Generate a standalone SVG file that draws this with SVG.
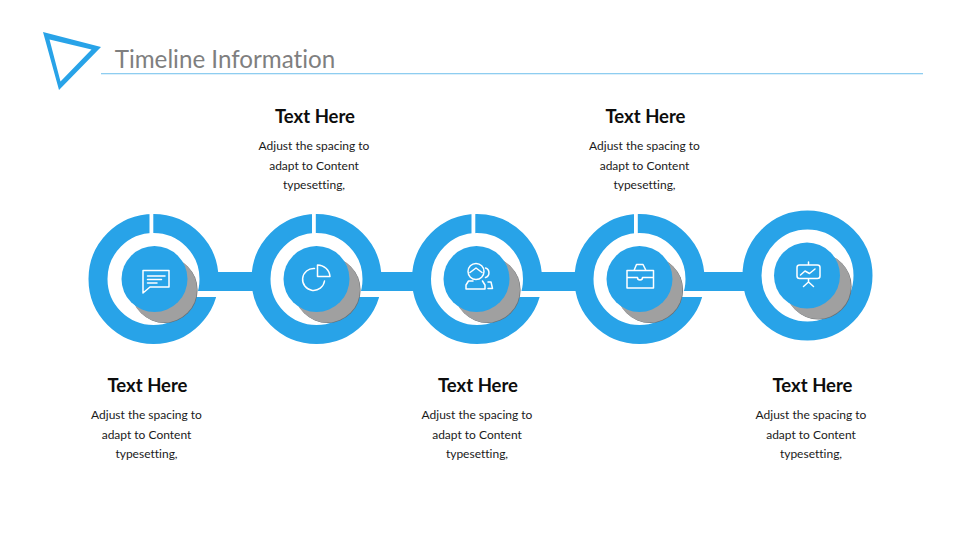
<svg xmlns="http://www.w3.org/2000/svg" width="960" height="540" viewBox="0 0 960 540">
<style>
.ring{fill:none;stroke:#28a3e8;stroke-width:19}
.cut{fill:#fff}
.bar{fill:#28a3e8}
.shade{fill:#6a6f73}
.gray{fill:#a0a0a0}
.disc{fill:#28a3e8}
.ico{fill:none;stroke:#fff;stroke-width:1.500;stroke-linejoin:round;stroke-linecap:round}
text{font-family:Lato,"Open Sans","Liberation Sans",sans-serif;text-anchor:middle;font-variant-ligatures:none}
.h{font-size:18.500px;font-weight:700;fill:#0d0d0d}
.b{font-size:12px;fill:#1a1a1a}
</style>
<rect width="960" height="540" fill="#fff"/>
<g id="header">
<path d="M43 32L101 47L59 90ZM49.500 39.500L60.500 81.500L91.500 49.500Z" fill="#28a3e8" fill-rule="evenodd"/>
<rect x="101" y="73" width="822" height="1.300" fill="#8ecdf0"/>
<text x="225" y="68" style="font-size:24.200px;fill:#7f7f7f">Timeline Information</text>
</g>
<g id="rings">
<g id="node1">
<circle class="ring" cx="153.500" cy="279" r="55.500"/>
<rect class="cut" x="149.500" y="210" width="3.800" height="28"/>
<rect class="cut" x="195" y="291" width="30" height="6"/>
<circle class="shade" cx="164.600" cy="290" r="33"/>
<circle class="gray" cx="164" cy="289.500" r="33"/>
<circle class="disc" cx="154.500" cy="279" r="33"/>
<path class="ico" d="M143 293V270.500H169V287H150ZM147.500 276H165M147.500 279.500H161.500M147.500 283H157"/>
</g>
<g id="node2">
<circle class="ring" cx="316.500" cy="279" r="55.500"/>
<rect class="cut" x="312" y="210" width="3.800" height="28"/>
<rect class="cut" x="358" y="291" width="30" height="6"/>
<circle class="shade" cx="327.600" cy="290" r="33"/>
<circle class="gray" cx="327" cy="289.500" r="33"/>
<circle class="disc" cx="316.500" cy="279" r="33"/>
<path class="ico" d="M314.500 268.500A11 11 0 1 0 324.500 281M317.500 265A12.500 12.500 0 0 1 330 276.500H317.500Z"/>
</g>
<g id="node3">
<circle class="ring" cx="477" cy="279" r="55.500"/>
<rect class="cut" x="471.500" y="210" width="3.800" height="28"/>
<rect class="cut" x="518" y="291" width="30" height="6"/>
<circle class="shade" cx="487.600" cy="290" r="33"/>
<circle class="gray" cx="487" cy="289.500" r="33"/>
<circle class="disc" cx="476.500" cy="279" r="33"/>
<path class="ico" d="M476 263.500A8 8 0 1 0 476 279.500A8 8 0 1 0 476 263.500ZM470 272.500L476 268L482 272.500M473 281H468.500L466 285V289H485V285L482.500 281M485.500 268A5 5 0 0 1 485.500 277.500M488 282H491L492.500 288.500H488"/>
</g>
<g id="node4">
<circle class="ring" cx="639.500" cy="279" r="55.500"/>
<rect class="cut" x="634" y="210" width="3.800" height="28"/>
<rect class="cut" x="681" y="291" width="30" height="6"/>
<circle class="shade" cx="650.100" cy="290" r="33"/>
<circle class="gray" cx="649.500" cy="289.500" r="33"/>
<circle class="disc" cx="639.500" cy="279" r="33"/>
<path class="ico" d="M627 270.500H653.500V288H627ZM627 277.500H637.500M642.500 277.500H653.500M637.500 277.500A2.500 2.500 0 0 0 642.500 277.500M634 270.500L636.500 264.500H643L646 270.500"/>
</g>
<g id="node5">
<circle class="ring" cx="807.500" cy="275.500" r="55.500"/>
<circle class="shade" cx="818.600" cy="286.500" r="33"/>
<circle class="gray" cx="818" cy="286" r="33"/>
<circle class="disc" cx="807" cy="275.500" r="33"/>
<path class="ico" d="M799.500 265H817.500Q820 265 820 267.500V276Q820 278.500 817.500 278.500H799.500Q797 278.500 797 276V267.500Q797 265 799.500 265ZM808.500 262V265M800.500 275L805 271L809.500 273.500L815 269M808.500 278.500V282M803.500 286.500L808.500 282L813.500 286.500"/>
</g>
</g>
<g id="connectors">
<rect class="bar" x="200" y="272" width="55" height="19"/>
<rect class="bar" x="363" y="272" width="52" height="19"/>
<rect class="bar" x="523" y="272" width="55" height="19"/>
<rect class="bar" x="686" y="272" width="60" height="19"/>
</g>
<g id="labels">
<text class="h" x="315" y="122.500">Text Here</text>
<text class="b" x="314" y="150">Adjust the spacing to</text>
<text class="b" x="314" y="170">adapt to Content</text>
<text class="b" x="314" y="189">typesetting,</text>
<text class="h" x="645.500" y="122.500">Text Here</text>
<text class="b" x="644.500" y="150">Adjust the spacing to</text>
<text class="b" x="644.500" y="170">adapt to Content</text>
<text class="b" x="644.500" y="189">typesetting,</text>
<text class="h" x="147.500" y="391.500">Text Here</text>
<text class="b" x="146.500" y="419">Adjust the spacing to</text>
<text class="b" x="146.500" y="439">adapt to Content</text>
<text class="b" x="146.500" y="458">typesetting,</text>
<text class="h" x="478" y="391.500">Text Here</text>
<text class="b" x="477" y="419">Adjust the spacing to</text>
<text class="b" x="477" y="439">adapt to Content</text>
<text class="b" x="477" y="458">typesetting,</text>
<text class="h" x="812.500" y="391.500">Text Here</text>
<text class="b" x="811" y="419">Adjust the spacing to</text>
<text class="b" x="811" y="439">adapt to Content</text>
<text class="b" x="811" y="458">typesetting,</text>
</g>
</svg>
